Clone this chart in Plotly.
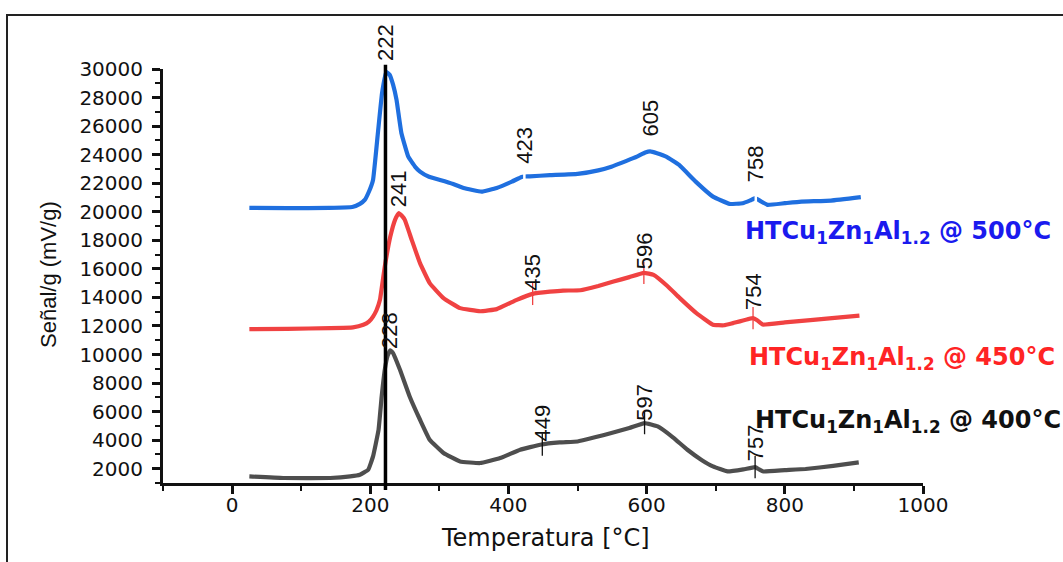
import numpy as np
import plotly.graph_objects as go

# ---------------- data ----------------
temp_500 = [25, 80, 140, 174, 185, 192, 198, 204, 211, 217, 223, 228, 233, 238, 245, 255, 265, 272, 285, 301,
            320, 335, 361, 383, 405, 419, 423, 431, 460, 500, 530, 549, 570, 586, 598, 605, 615, 629, 647, 671,
            696, 720, 739, 750, 757, 762, 775, 800, 824, 867, 910]
sig_500 = [20270, 20250, 20270, 20330, 20550, 20830, 21400, 22230, 25500, 28300, 29800, 29600, 28900, 27830, 25520,
           23860, 23150, 22810, 22450, 22230, 21950, 21670, 21410, 21670, 22110, 22440, 22470, 22480, 22560, 22650,
           22900, 23160, 23550, 23860, 24150, 24230, 24100, 23850, 23280, 22110, 21060, 20550, 20600, 20800, 20950,
           20830, 20480, 20600, 20710, 20780, 21020]

temp_450 = [25, 80, 142, 175, 190, 198, 204, 209, 214, 221, 229, 236, 241, 246, 250, 260, 272, 286, 306, 330,
            359, 383, 412, 435, 460, 479, 504, 530, 552, 575, 596, 610, 630, 648, 672, 696, 712, 725, 754, 760,
            768, 800, 841, 880, 908]
sig_450 = [11780, 11800, 11850, 11900, 12080, 12300, 12660, 13100, 13830, 16160, 18260, 19450, 19900, 19700, 19430,
           18030, 16400, 15000, 13950, 13250, 13030, 13180, 13830, 14250, 14400, 14480, 14500, 14800, 15110, 15420,
           15720, 15580, 14800, 13950, 12900, 12080, 12050, 12200, 12550, 12400, 12100, 12250, 12430, 12600, 12730]

temp_400 = [25, 74, 142, 171, 185, 197, 204, 212, 216.5, 221, 225, 229, 233, 243, 257, 272, 286, 306, 330, 359,
            388, 417, 446, 474, 500, 525, 549, 575, 597, 616, 638, 659, 680, 696, 717, 740, 757, 763, 769, 800,
            830, 870, 907]
sig_400 = [1460, 1350, 1350, 1460, 1580, 1930, 2860, 4730, 7060, 8930, 9900, 10300, 10100, 8930, 7060, 5430, 4030,
           3100, 2510, 2400, 2750, 3330, 3680, 3840, 3910, 4200, 4500, 4850, 5200, 4960, 4200, 3330, 2600, 2160,
           1810, 1950, 2110, 1950, 1810, 1900, 1980, 2200, 2440]

peaks_500 = [222, 423, 605, 758]
peaks_450 = [241, 435, 596, 754]
peaks_400 = [228, 449, 597, 757]
label_y_500 = [30490, 23280, 25170, 22020]
label_y_450 = [20250, 14400, 15930, 13010]
label_y_400 = [10330, 3820, 5290, 2420]

series_names = ["HTCu<sub>1</sub>Zn<sub>1</sub>Al<sub>1.2</sub> @ 500°C",
                "HTCu<sub>1</sub>Zn<sub>1</sub>Al<sub>1.2</sub> @ 450°C",
                "HTCu<sub>1</sub>Zn<sub>1</sub>Al<sub>1.2</sub> @ 400°C"]
ref_line_x = 222

x_ticks = [0, 200, 400, 600, 800, 1000]
y_ticks = list(range(2000, 30001, 2000))

# ---------------- style ----------------
C_BLUE, C_RED, C_GRAY = "#1f6fdf", "#f04242", "#4e4e4e"
LBL_BLUE, LBL_RED, LBL_BLACK = "#1a1aee", "#ff2424", "#111111"
W, H = 1063, 562
ML, MR, MT, MB = 163, 140, 69, 79
Y_MIN, Y_MAX = 1000, 30000
PX_PER_Y = (H - MT - MB) / (Y_MAX - Y_MIN)

fig = go.Figure()
for xs, ys, c in [(temp_500, sig_500, C_BLUE), (temp_450, sig_450, C_RED), (temp_400, sig_400, C_GRAY)]:
    fig.add_trace(go.Scatter(x=xs, y=ys, mode="lines", line=dict(color=c, width=4.2, shape="spline", smoothing=0.3),
                             showlegend=False, hoverinfo="skip"))

# peak tick markers
def marks(peaks, xs, ys, color, size, width):
    py = np.interp(peaks, xs, ys)
    fig.add_trace(go.Scatter(x=peaks, y=py, mode="markers", showlegend=False, hoverinfo="skip",
                             marker=dict(symbol="line-ns", size=size, line=dict(color=color, width=width))))

marks(peaks_500[1:2] + peaks_500[3:], temp_500, sig_500, "white", 9, 2.5)
marks(peaks_450[1:], temp_450, sig_450, C_RED, 16, 1.3)
marks(peaks_400[1:], temp_400, sig_400, "#111111", 16, 1.3)

# peak labels
for peaks, ly in [(peaks_500, label_y_500), (peaks_450, label_y_450), (peaks_400, label_y_400)]:
    for p, yv in zip(peaks, ly):
        ya = min(yv, Y_MAX)
        fig.add_annotation(x=p, y=ya, yshift=(yv - ya) * PX_PER_Y, text=str(p), textangle=-90, showarrow=False,
                           xanchor="center", yanchor="bottom", borderpad=0,
                           font=dict(family="Liberation Sans, Arial", size=22, color="#111111"))

pw, ph = W - ML - MR, H - MT - MB

# series labels
for name, col, px, py in [(series_names[0], LBL_BLUE, 743, 232),
                          (series_names[1], LBL_RED, 747, 358),
                          (series_names[2], LBL_BLACK, 753, 421)]:
    fig.add_annotation(xref="paper", yref="paper", x=(px - ML) / pw, y=(H - MB - py) / ph,
                       text="<b>" + name + "</b>", showarrow=False, xanchor="left", yanchor="middle",
                       font=dict(family="DejaVu Sans", size=24, color=col))

# reference vertical line
fig.add_shape(type="line", xref="x", yref="paper", x0=ref_line_x, x1=ref_line_x, y0=-0.017, y1=1.01,
              line=dict(color="black", width=3.5))

# outer frame (cropped on right/bottom)
fig.add_shape(type="rect", xref="paper", yref="paper", x0=(7 - ML) / pw, x1=(1100 - ML) / pw,
              y0=(H - MB - 600) / ph, y1=(H - MB - 15) / ph, line=dict(color="#222222", width=2))

# axis titles
fig.add_annotation(xref="paper", yref="paper", x=(545 - ML) / pw, y=(H - MB - 538) / ph,
                   text="Temperatura [°C]", showarrow=False, xanchor="center", yanchor="middle",
                   font=dict(family="DejaVu Sans", size=24, color="#111111"))
fig.add_annotation(xref="paper", yref="paper", x=(48 - ML) / pw, y=(H - MB - 275) / ph,
                   text="Señal/g (mV/g)", showarrow=False, textangle=-90, xanchor="center", yanchor="middle",
                   font=dict(family="Liberation Sans, Arial", size=22, color="#111111"))

tickfont = dict(family="DejaVu Sans", size=20, color="#111111")
fig.update_layout(
    width=W, height=H, margin=dict(l=ML, r=MR, t=MT, b=MB),
    paper_bgcolor="white", plot_bgcolor="white",
    xaxis=dict(range=[-100, 1000], tickvals=x_ticks, ticktext=[str(v) for v in x_ticks],
               showgrid=False, zeroline=False, showline=True, linecolor="#111111", linewidth=3,
               ticks="outside", ticklen=8, tickwidth=2.5, tickcolor="#111111", tickfont=tickfont,
               ticklabelstandoff=-6,
               minor=dict(dtick=100, tick0=0, ticks="outside", ticklen=5, tickwidth=2, tickcolor="#111111")),
    yaxis=dict(range=[Y_MIN, Y_MAX], tickvals=y_ticks, ticktext=[str(v) for v in y_ticks],
               showgrid=False, zeroline=False, showline=True, linecolor="#111111", linewidth=3,
               ticks="outside", ticklen=8, tickwidth=2.5, tickcolor="#111111", tickfont=tickfont,
               ticklabelstandoff=5,
               minor=dict(dtick=1000, tick0=0, ticks="outside", ticklen=5, tickwidth=2, tickcolor="#111111")),
)

fig.write_html("out.html")
